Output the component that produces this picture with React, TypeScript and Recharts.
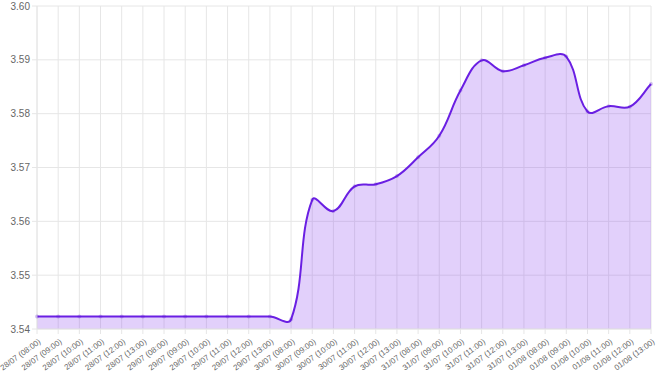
import React from 'react';
import { AreaChart, Area, XAxis, YAxis, CartesianGrid } from 'recharts';

const labels = [
    '28/07 (08:00)', '28/07 (09:00)', '28/07 (10:00)', '28/07 (11:00)', '28/07 (12:00)', '28/07 (13:00)',
    '29/07 (08:00)', '29/07 (09:00)', '29/07 (10:00)', '29/07 (11:00)', '29/07 (12:00)', '29/07 (13:00)',
    '30/07 (08:00)', '30/07 (09:00)', '30/07 (10:00)', '30/07 (11:00)', '30/07 (12:00)', '30/07 (13:00)',
    '31/07 (08:00)', '31/07 (09:00)', '31/07 (10:00)', '31/07 (11:00)', '31/07 (12:00)', '31/07 (13:00)',
    '01/08 (08:00)', '01/08 (09:00)', '01/08 (10:00)', '01/08 (11:00)', '01/08 (12:00)', '01/08 (13:00)',
];

const values = [
    3.5423, 3.5423, 3.5423, 3.5423, 3.5423, 3.5423,
    3.5423, 3.5423, 3.5423, 3.5423, 3.5423, 3.5423,
    3.5418, 3.564, 3.5619, 3.5665, 3.5669, 3.5684,
    3.5719, 3.5759, 3.5843, 3.5899, 3.5879, 3.589,
    3.5904, 3.5906, 3.5804, 3.5814, 3.5813, 3.5855,
];

const yTicks = [3.54, 3.55, 3.56, 3.57, 3.58, 3.59, 3.6];

const data = labels.map((label, i) => ({ label, value: values[i] }));

const LINE = '#6a1fe3';
const DOT = '#5a12d4';
const FILL = '#8b45f0';
const FONT = '"Liberation Sans", Arial, sans-serif';

// tension-based spline (same idea as chart.js "tension: 0.4"), plugged in as a curve factory
const tensionCurve = (tension: number) => (ctx: any) => {
    let pts: number[][] = [];
    let line = NaN;
    const draw = () => {
        const n = pts.length;
        if (!n) return;
        if (line) ctx.lineTo(pts[0][0], pts[0][1]);
        else ctx.moveTo(pts[0][0], pts[0][1]);
        const cps = pts.map((cur, i) => {
            const prev = pts[i - 1] || cur;
            const next = pts[i + 1] || cur;
            const d01 = Math.hypot(cur[0] - prev[0], cur[1] - prev[1]);
            const d12 = Math.hypot(next[0] - cur[0], next[1] - cur[1]);
            const s01 = d01 + d12 ? d01 / (d01 + d12) : 0;
            const s12 = d01 + d12 ? d12 / (d01 + d12) : 0;
            const dx = next[0] - prev[0];
            const dy = next[1] - prev[1];
            return {
                inX: cur[0] - tension * s01 * dx,
                inY: cur[1] - tension * s01 * dy,
                outX: cur[0] + tension * s12 * dx,
                outY: cur[1] + tension * s12 * dy,
            };
        });
        for (let i = 1; i < n; i++) {
            ctx.bezierCurveTo(cps[i - 1].outX, cps[i - 1].outY, cps[i].inX, cps[i].inY, pts[i][0], pts[i][1]);
        }
    };
    return {
        areaStart() { line = 0; },
        areaEnd() { line = NaN; },
        lineStart() { pts = []; },
        lineEnd() {
            draw();
            if (line || (line !== 0 && pts.length === 1)) ctx.closePath();
            line = 1 - line;
        },
        point(x: number, y: number) { pts.push([+x, +y]); },
    };
};

// rotated date labels, ending just right of the tick like the original
const XTick = ({ x, y, payload }: any) => {
    const ax = x + 3;
    const ay = y + 5;
    return (
        <text
            x={ax}
            y={ay}
            transform={`rotate(-36, ${ax}, ${ay})`}
            textAnchor="end"
            dominantBaseline="middle"
            fontSize={8}
            fontFamily={FONT}
            fill="#666"
        >
            {payload.value}
        </text>
    );
};

export default function App() {
    return (
        <div style={{ position: 'absolute', left: 0, top: 0 }}>
            <AreaChart width={661} height={376} data={data} margin={{ top: 6, right: 10, bottom: 0, left: 0 }}>
                <CartesianGrid stroke="#e6e6e6" />
                <XAxis
                    dataKey="label"
                    interval={0}
                    tickSize={5}
                    height={47}
                    tickLine={{ stroke: '#e6e6e6' }}
                    axisLine={{ stroke: '#e6e6e6' }}
                    tick={<XTick />}
                />
                <YAxis
                    domain={[3.54, 3.6]}
                    ticks={yTicks}
                    width={37}
                    tickSize={5}
                    tickLine={{ stroke: '#e6e6e6' }}
                    axisLine={{ stroke: '#e6e6e6' }}
                    tickFormatter={(v: number) => v.toFixed(2)}
                    tick={{ fontSize: 10, fill: '#666', fontFamily: FONT }}
                />
                <Area
                    type={tensionCurve(0.4) as any}
                    dataKey="value"
                    stroke={LINE}
                    strokeWidth={2}
                    fill={FILL}
                    fillOpacity={0.25}
                    dot={{ r: 2, fill: DOT, stroke: 'none' }}
                    baseValue={3.54}
                    isAnimationActive={false}
                />
            </AreaChart>
        </div>
    );
}
